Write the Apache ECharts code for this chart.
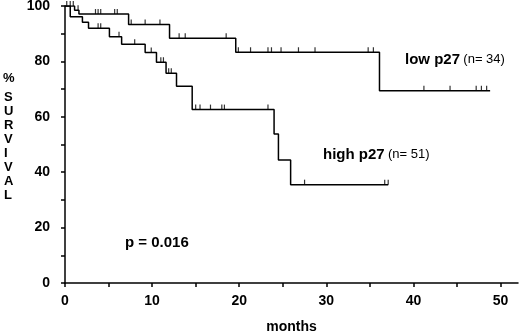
<!DOCTYPE html>
<html>
<head>
<meta charset="utf-8">
<script src="https://cdn.jsdelivr.net/npm/echarts@6/dist/echarts.min.js"></script>
<style>
  html, body { margin: 0; padding: 0; background: #fff; }
  #chart { width: 520px; height: 334px; }
</style>
</head>
<body>
<div id="chart"></div>
<script>
'use strict';
// Kaplan-Meier survival, low vs high p27

// low p27 (n= 34): step times (months) and survival after each step (%)
var lowTimes = [0, 1.1, 1.6, 7.3, 12.0, 19.6, 36.1, 48.8];
var lowSurv = [100, 98.5, 97.1, 93.3, 88.4, 83.3, 69.4, 69.4];
var lowCensored = [0.2, 0.6, 0.95, 1.5, 3.5, 3.8, 4.1, 5.7, 6.0, 7.6, 9.2, 10.9,
    13.1, 13.8, 18.5, 19.9, 21.3, 23.3, 23.7, 24.8, 26.8, 28.7, 34.8, 35.4,
    41.2, 44.2, 47.2, 47.8, 48.4];

// high p27 (n= 51)
var highTimes = [0, 0.6, 2.0, 2.7, 5.1, 6.5, 9.2, 10.5, 11.6, 12.8, 14.6, 24.0, 24.5, 25.9, 37.1];
var highSurv = [100, 96.1, 94.1, 92.0, 88.9, 86.2, 83.2, 79.7, 75.7, 71.0, 62.6, 53.8, 44.4, 35.5, 35.5];
var highCensored = [3.8, 4.1, 6.2, 8.0, 9.9, 11.0, 11.3, 11.9, 12.2,
    15.0, 15.5, 16.7, 18.0, 18.3, 23.3, 27.5, 36.7, 37.1];

var xLabelValues = [0, 10, 20, 30, 40, 50];
var xTickValues = [0, 5, 10, 15, 20, 25, 30, 35, 40, 45, 50];
var yLabelValues = [0, 20, 40, 60, 80, 100];
var yTickValues = [0, 10, 20, 30, 40, 50, 60, 70, 80, 90, 100];

var FONT = '"Liberation Sans", Arial, Helvetica, sans-serif';

// survival value of a step curve at time t
function survAt(times, surv, t) {
    var v = surv[0];
    for (var i = 0; i < times.length; i++) {
        if (times[i] <= t) v = surv[i];
    }
    return v;
}

function toPairs(times, surv) {
    return times.map(function (t, i) { return [t, surv[i]]; });
}

function censorPairs(times, surv, cens) {
    return cens.map(function (t) { return [t, survAt(times, surv, t)]; });
}

var chart = echarts.init(document.getElementById('chart'), null, { renderer: 'canvas' });

var lineStyle = { color: '#000', width: 1.5 };
var censorStyle = {
    type: 'scatter',
    symbol: 'rect',
    symbolSize: [1.2, 5],
    symbolOffset: [0, -2.5],
    itemStyle: { color: '#000' },
    silent: true,
    z: 3
};

var option = {
    animation: false,
    grid: { left: 65, right: 2, top: 6, bottom: 51, outerBoundsMode: 'none', containLabel: false },
    xAxis: {
        type: 'value',
        min: 0,
        max: 52,
        name: 'months',
        nameLocation: 'middle',
        nameGap: 37,
        nameTextStyle: { color: '#000', fontFamily: FONT, fontWeight: 'bold', fontSize: 14 },
        axisLine: { lineStyle: { color: '#000', width: 1.5 } },
        axisTick: { length: 4, customValues: xTickValues, lineStyle: { color: '#000', width: 1.5 } },
        axisLabel: { customValues: xLabelValues, color: '#000', fontFamily: FONT, fontWeight: 'bold', fontSize: 14, margin: 11 },
        splitLine: { show: false }
    },
    yAxis: {
        type: 'value',
        min: 0,
        max: 100,
        axisLine: { show: true, lineStyle: { color: '#000', width: 1.5 } },
        axisTick: { show: true, length: 4, customValues: yTickValues, lineStyle: { color: '#000', width: 1.5 } },
        axisLabel: { customValues: yLabelValues, color: '#000', fontFamily: FONT, fontWeight: 'bold', fontSize: 14, margin: 15 },
        splitLine: { show: false }
    },
    series: [
        {
            name: 'low p27',
            type: 'line',
            step: 'end',
            symbol: 'none',
            lineStyle: lineStyle,
            data: toPairs(lowTimes, lowSurv)
        },
        {
            name: 'high p27',
            type: 'line',
            step: 'end',
            symbol: 'none',
            lineStyle: lineStyle,
            data: toPairs(highTimes, highSurv)
        },
        Object.assign({ name: 'low censored', data: censorPairs(lowTimes, lowSurv, lowCensored) }, censorStyle),
        Object.assign({ name: 'high censored', data: censorPairs(highTimes, highSurv, highCensored) }, censorStyle)
    ],
    graphic: [
        {
            type: 'text', left: 3, top: 72,
            style: { text: '%', fill: '#000', font: 'bold 13px ' + FONT }
        },
        {
            type: 'text', left: 4, top: 90,
            style: {
                text: 'S\nU\nR\nV\nI\nV\nA\nL',
                fill: '#000', font: 'bold 13px ' + FONT,
                lineHeight: 14, align: 'center', x: 6
            }
        },
        {
            type: 'text', left: 405, top: 52,
            style: {
                text: '{b|low p27} {n|(n= 34)}',
                rich: {
                    b: { fill: '#000', font: 'bold 15px ' + FONT },
                    n: { fill: '#000', font: '13px ' + FONT }
                }
            }
        },
        {
            type: 'text', left: 323, top: 147,
            style: {
                text: '{b|high p27} {n|(n= 51)}',
                rich: {
                    b: { fill: '#000', font: 'bold 15px ' + FONT },
                    n: { fill: '#000', font: '13px ' + FONT }
                }
            }
        },
        {
            type: 'text', left: 125, top: 235,
            style: { text: 'p = 0.016', fill: '#000', font: 'bold 15px ' + FONT }
        }
    ]
};

chart.setOption(option);
</script>
</body>
</html>
